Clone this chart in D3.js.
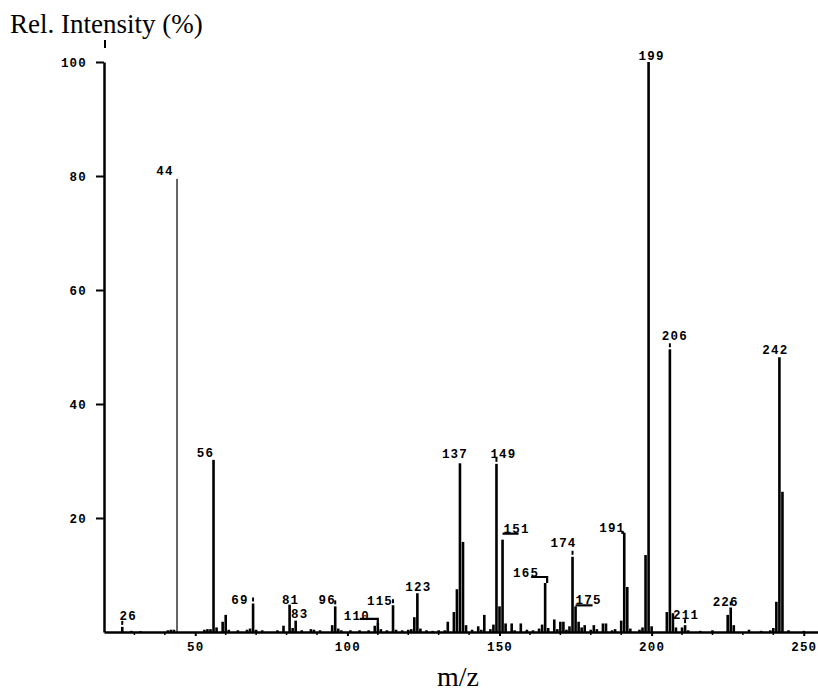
<!DOCTYPE html>
<html>
<head>
<meta charset="utf-8">
<script src="https://cdn.jsdelivr.net/npm/d3@7"></script>
<style>
  body { margin: 0; background: #fff; }
  .mono { font-family: "Liberation Mono", "DejaVu Sans Mono", monospace; font-size: 12.5px; font-weight: bold; letter-spacing: 1.2px; fill: #000; }
  .serif { font-family: "Liberation Serif", "Times New Roman", serif; fill: #000; }
</style>
</head>
<body>
<div id="chart"></div>
<script>
// peak list: m/z and relative intensity (%)
var mz = [26, 29, 32, 41, 42, 43, 44, 53, 54, 55, 56, 57, 59, 60, 61, 64, 67, 68, 69, 70,
          72, 77, 79, 81, 82, 83, 85, 88, 89, 91, 95, 96, 97, 98, 101, 104, 107, 109, 110, 111,
          113, 115, 116, 118, 120, 121, 122, 123, 124, 126, 128, 130, 132, 133, 135, 136, 137, 138, 139, 141,
          143, 144, 145, 147, 148, 149, 150, 151, 152, 154, 155, 157, 159, 161, 163, 164, 165, 166, 168, 169,
          170, 171, 172, 173, 174, 175, 176, 177, 178, 180, 181, 182, 184, 185, 187, 188, 190, 191, 192, 193,
          196, 197, 198, 199, 200, 205, 206, 207, 208, 210, 211, 212, 216, 220, 225, 226, 227, 232, 236, 239,
          240, 241, 242, 243, 245, 250];
var intensity = [0.9, 0.2, 0.15, 0.3, 0.4, 0.4, 79.5, 0.4, 0.5, 0.5, 30.2, 0.8, 1.8, 3.0, 0.4, 0.3, 0.4, 0.6, 5.0, 0.4,
          0.3, 0.3, 1.1, 4.8, 0.7, 2.0, 0.3, 0.5, 0.4, 0.3, 1.2, 4.5, 0.6, 0.3, 0.3, 0.3, 0.3, 1.1, 1.6, 0.5,
          0.3, 4.7, 0.4, 0.3, 0.4, 0.5, 2.6, 6.8, 0.6, 0.3, 0.2, 0.3, 0.3, 1.8, 3.5, 7.5, 29.6, 15.8, 1.2, 0.4,
          1.0, 0.4, 3.0, 0.5, 1.3, 29.5, 4.5, 16.2, 1.5, 1.5, 0.3, 1.5, 0.4, 0.3, 0.6, 1.3, 8.6, 0.7, 2.2, 0.5,
          1.8, 1.8, 0.4, 1.0, 13.2, 4.5, 1.8, 0.8, 1.2, 0.4, 1.2, 0.5, 1.5, 1.5, 0.3, 0.5, 2.0, 17.4, 7.9, 0.6,
          0.4, 0.8, 13.5, 100, 1.0, 3.5, 49.6, 3.3, 0.8, 0.8, 1.2, 0.3, 0.2, 0.3, 3.0, 4.3, 1.2, 0.4, 0.2, 0.3,
          0.7, 5.3, 48.2, 24.6, 0.3, 0.2];

// labelled peaks
var labelledPeaks = [26, 44, 56, 69, 81, 83, 96, 110, 115, 123, 137, 149, 151, 165, 174, 175, 191, 199, 206, 211, 226, 242];

var xTicks = [50, 100, 150, 200, 250];
var yTicks = [20, 40, 60, 80, 100];

// label placement, offsets from the top of each peak
var labelOffset = {
  26: [5, -7], 44: [-13, -4], 56: [-9, -3], 69: [-14, 0], 81: [0, -1], 83: [3, -3],
  96: [-9, -2], 110: [-22, -3], 115: [-14, 0], 123: [0, -2], 137: [-6, -5], 149: [6, -6],
  151: [13, -7], 165: [-20, -6], 174: [-10, -10], 175: [12, -2], 191: [-13, -1], 199: [2, -2],
  206: [4, -9], 211: [0, -6], 226: [-6, -1], 242: [-5, -3]
};
// little leader brackets: [x0, x1, y] from the peak top
var brackets = {110: [-18, 0, -4], 151: [0, 16, -6], 165: [-14, 2, -6], 175: [0, 17, -1], 191: [-3, 0, 0]};
var dashes = [26, 69, 96, 115, 149, 174, 206, 211, 226];

var width = 818, height = 692;

var svg = d3.select("#chart").append("svg")
    .attr("width", width)
    .attr("height", height);

var x = d3.scaleLinear().domain([20, 256]).range([104, 822]);
var y = d3.scaleLinear().domain([0, 100]).range([632, 62]);

var peaks = mz.map(function(d, i) { return {mz: d, v: intensity[i]}; });
var byMz = {};
peaks.forEach(function(p) { byMz[p.mz] = p; });

// bars
svg.selectAll(".bar")
  .data(peaks)
  .enter()
  .append("rect")
    .attr("class", "bar")
    .attr("x", function(d) { return x(d.mz) - (d.mz == 44 ? 0.6 : 1.3); })
    .attr("width", function(d) { return d.mz == 44 ? 1.2 : 2.6; })
    .attr("y", function(d) { return y(d.v); })
    .attr("height", function(d) { return y(0) - y(d.v); })
    .attr("fill", "#000");

// y axis
var yAxis = svg.append("g")
  .attr("transform", "translate(" + x(20) + ",0)")
  .call(d3.axisLeft(y).tickValues(yTicks).tickSize(8).tickSizeOuter(0).tickPadding(9));
yAxis.select(".domain").attr("stroke-width", 2.5);
yAxis.selectAll(".tick line").attr("stroke-width", 2);
yAxis.selectAll(".tick text").attr("class", "mono").attr("font-family", null).attr("font-size", null);

svg.append("line")
  .attr("x1", x(20) + 1).attr("x2", x(20) + 1)
  .attr("y1", 40).attr("y2", 48)
  .attr("stroke", "#000").attr("stroke-width", 2);

// x axis
var xAxis = svg.append("g")
  .attr("transform", "translate(0," + y(0) + ")")
  .call(d3.axisBottom(x).tickValues(xTicks).tickSize(4).tickSizeOuter(0).tickPadding(6));
xAxis.select(".domain").attr("stroke-width", 2.5);
xAxis.selectAll(".tick line").attr("stroke-width", 2);
xAxis.selectAll(".tick text").attr("class", "mono").attr("font-family", null).attr("font-size", null);

svg.append("g")
  .attr("transform", "translate(0," + y(0) + ")")
  .selectAll("line")
  .data(d3.range(30, 256, 10).filter(function(d) { return d % 50 != 0; }))
  .enter().append("line")
    .attr("x1", function(d) { return x(d); })
    .attr("x2", function(d) { return x(d); })
    .attr("y1", 0).attr("y2", 3)
    .attr("stroke", "#000").attr("stroke-width", 1.5);

// peak labels
svg.selectAll(".plabel")
  .data(labelledPeaks)
  .enter()
  .append("text")
    .attr("class", "mono")
    .attr("text-anchor", "middle")
    .attr("x", function(d) { return x(d) + labelOffset[d][0] + 1; })
    .attr("y", function(d) { return y(byMz[d].v) + labelOffset[d][1]; })
    .text(function(d) { return d; });

// leader brackets
Object.keys(brackets).forEach(function(k) {
  var b = brackets[k], px = x(+k), py = y(byMz[k].v);
  svg.append("path")
    .attr("d", "M" + (px + b[0]) + "," + (py + b[2]) + "H" + (px + b[1]) + (b[0] < 0 ? "V" + py : ""))
    .attr("fill", "none").attr("stroke", "#000").attr("stroke-width", 2.2);
});

svg.selectAll(".dash")
  .data(dashes)
  .enter()
  .append("line")
    .attr("x1", function(d) { return x(d); })
    .attr("x2", function(d) { return x(d); })
    .attr("y1", function(d) { return y(byMz[d].v) - 6; })
    .attr("y2", function(d) { return y(byMz[d].v) - 2; })
    .attr("stroke", "#000").attr("stroke-width", 2);

// titles
svg.append("text")
  .attr("class", "serif")
  .attr("x", 10).attr("y", 33)
  .attr("font-size", 27)
  .text("Rel. Intensity (%)");

svg.append("text")
  .attr("class", "serif")
  .attr("x", 458).attr("y", 686)
  .attr("text-anchor", "middle")
  .attr("font-size", 28)
  .text("m/z");
</script>
</body>
</html>
